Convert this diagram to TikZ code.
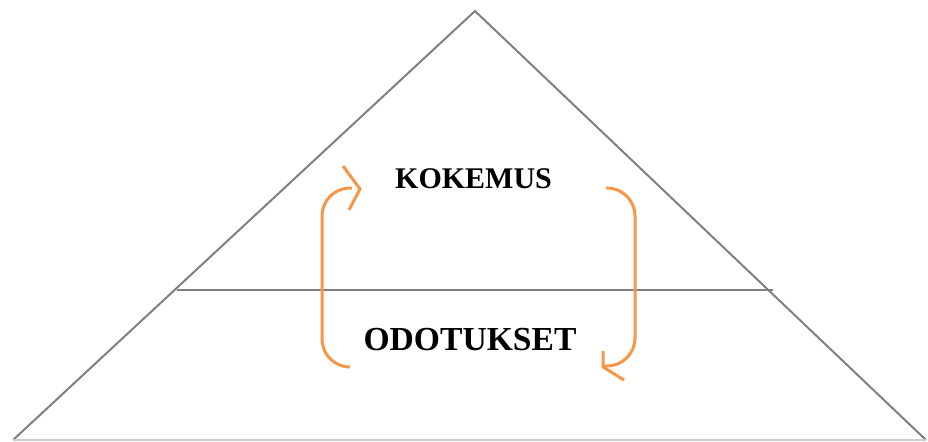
\documentclass[tikz,border=0pt]{standalone}
\usepackage{fontspec}
\setmainfont{Liberation Serif}
\definecolor{pyrline}{RGB}{128,128,128}
\definecolor{pyrbase}{RGB}{205,205,205}
\definecolor{cycleorange}{RGB}{247,150,70}

\begin{document}
\begin{tikzpicture}[x=0.5pt,y=-0.5pt,
  edge/.style={draw=pyrline,line width=1pt},
  cycle/.style={draw=cycleorange,line width=1.5pt,rounded corners=14pt},
  chevron/.style={draw=cycleorange,line width=1.5pt},
  tier/.style={inner sep=0pt}]

  \useasboundingbox (0,0) rectangle (928,441);

  %% pyramid
  \coordinate (apex)  at (475,11);
  \coordinate (baseL) at (13,440);
  \coordinate (baseR) at (926,440);
  \coordinate (midL)  at (177,290);
  \coordinate (midR)  at (773,290);

  \draw[edge] (baseL) -- (apex) -- (baseR);
  \draw[edge] (midL) -- (midR);
  \draw[pyrbase,line width=1pt] (baseL) -- (baseR);

  %% tier texts
  \node[tier,font=\bfseries\fontsize{15}{18}\selectfont] (kokemus) at (473.5,179) {KOKEMUS};
  \node[tier,font=\bfseries\fontsize{16.8}{20}\selectfont] (odotukset) at (470,340) {ODOTUKSET};

  %% left loop, going up
  \coordinate (upS) at (350,367);
  \coordinate (upE) at (352,188);
  \draw[cycle] (upS) -| (322,188) -- (upE);
  \draw[chevron] (343,166) -- (360,189) -- (349,210);

  %% right loop, going down
  \coordinate (dnS) at (606,188);
  \coordinate (dnE) at (603,366);
  \draw[cycle] (dnS) -| (635,366) -- (dnE);
  \draw[chevron] (603,351) -- (603,367) -- (624,380);
\end{tikzpicture}
\end{document}
